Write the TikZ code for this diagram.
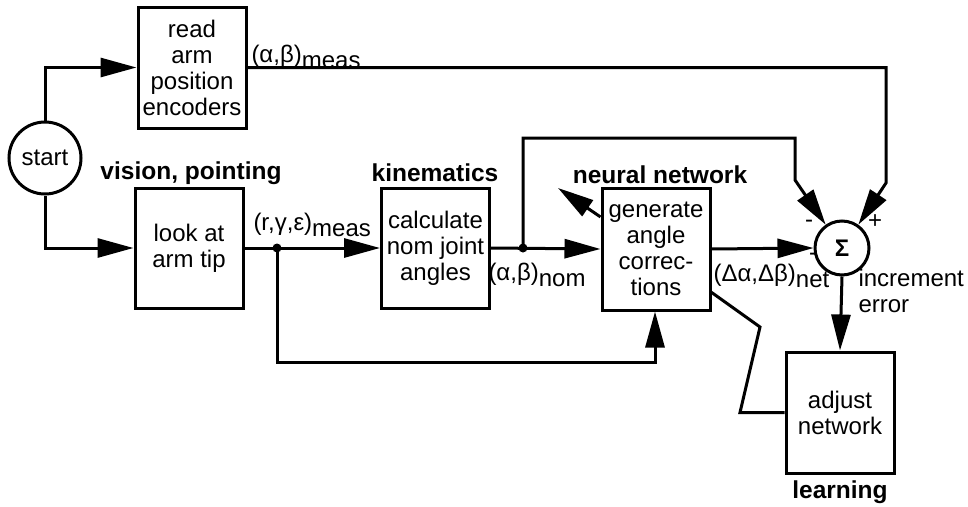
\documentclass[tikz,border=0pt]{standalone}
\usepackage{fontspec}
\setmainfont{Liberation Sans}
\usetikzlibrary{arrows.meta}
\newcommand{\lowsub}[1]{\raisebox{-6pt}{#1}}
\begin{document}
\begin{tikzpicture}[
    x=1pt, y=-1pt,
    line width=3pt,
    txt/.style={font=\fontsize{24}{26}\selectfont},
    blk/.style={draw, txt, align=center, inner sep=0pt, minimum width=108pt, minimum height=120pt},
    rnd/.style={draw, circle, txt, inner sep=0pt},
    hd/.style={font=\fontsize{24.5}{26}\selectfont\bfseries},
    lbl/.style={txt, anchor=base west, inner sep=0pt},
    sgn/.style={txt, inner sep=0pt},
    arr/.style={-{Triangle[length=36pt,width=19pt]}},
]
\useasboundingbox (0,0) rectangle (968,506);
\node[rnd, minimum size=72pt] (start) at (45,158) {start};
\node[blk, minimum height=121pt] (read) at (192,67.5) {read\\arm\\position\\encoders};
\node[blk] (look) at (189,248) {look at\\arm tip};
\node[blk] (calc) at (435.5,248) {calculate\\nom joint\\angles};
\node[blk, minimum height=122pt] (gen) at (656,249) {generate\\angle\\correc-\\tions};
\node[rnd, minimum size=54pt, font=\fontsize{24}{26}\selectfont\bfseries] (sum) at (842,248) {Σ};
\node[blk, minimum height=121pt] (adj) at (840,412.5) {adjust\\network};
\node[hd] (vis) at (191,173) {vision, pointing};
\node[hd] (kin) at (435,173) {kinematics};
\node[hd] (nn) at (660,175) {neural network};
\node[hd] (lrn) at (840,492) {learning};
\node[lbl] (abm) at (250,62) {(α,β)\lowsub{meas}};
\node[lbl] (rgm) at (252,230) {(r,γ,ε)\lowsub{meas}};
\node[lbl] (abn) at (487,280) {(α,β)\lowsub{nom}};
\node[lbl] (dab) at (712,281) {(Δα,Δβ)\lowsub{net}};
\node[txt, anchor=north west, align=left, inner sep=0pt] (inc) at (857,268) {increment\\error};
\node[sgn] (m1) at (809,224) {-};
\node[sgn] (m2) at (813,257) {-};
\node[sgn] (p1) at (875,222) {+};
\coordinate (j1) at (277,248);
\coordinate (j2) at (523,248);
\coordinate (fb) at (655,362);
\coordinate (ffa) at (795,138);
\coordinate (ffb) at (795,180);
\coordinate (rb) at (886,183);
\coordinate (la) at (740,412.5);
\coordinate (lb) at (760,327);
\coordinate (nt) at (558,188);
\draw[arr] (start.north) |- (read.west);
\draw[arr] (start.south) |- (look.west);
\draw[arr] (read.east) -| (rb) -- (sum.55);
\draw[arr] (look.east) -- (calc.west);
\draw[arr] (calc.east) -- (gen.west);
\draw[arr] (gen.east) -- (sum.west);
\draw[arr] (sum.south) -- (adj.north);
\draw[arr] (j1) |- (fb) -- (fb |- gen.south);
\draw[arr] (j2) |- (ffa) -- (ffb) -- (sum.125);
\draw[arr] (gen.150) -- (nt);
\draw (adj.west) -- (la) -- (lb) -- (gen.-38);
\fill (j1) circle (4.5pt);
\fill (j2) circle (4.5pt);
\end{tikzpicture}
\end{document}
